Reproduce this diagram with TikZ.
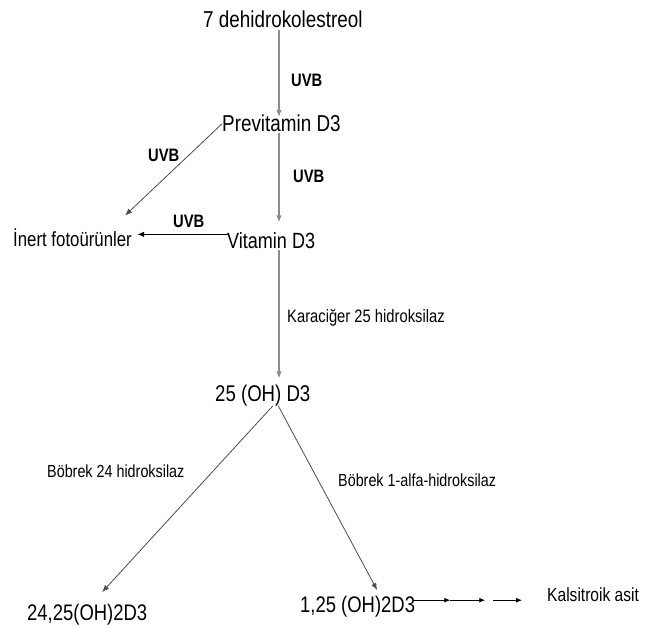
\documentclass[tikz,border=0pt]{standalone}
\usepackage{fontspec}
\setmainfont{Liberation Sans}[FakeStretch=0.82]
\usetikzlibrary{arrows.meta}
\colorlet{colorUV}{black!45}
\colorlet{colorDiag}{black!70}
\tikzset{
   every path/.style={>={Latex[length=7pt,width=5.5pt]}},
   txt/.style={inner sep=0pt,anchor=base west,font=\fontsize{#1}{#1}\selectfont},
   uvb/.style={inner sep=0pt,anchor=base west,font=\bfseries\fontsize{18}{18}\selectfont},
   vert/.style={->,color=colorUV,line width=1.1pt},
   diag/.style={->,color=colorDiag,line width=0.8pt},
   side/.style={->,color=black,line width=1.3pt},
   kal/.style={->,color=black,line width=0.9pt,>={Latex[length=6pt,width=5pt]}},
}

\begin{document}
\begin{tikzpicture}[x=1pt,y=-1pt]
        \useasboundingbox (0,0) rectangle (647,628);
        \coordinate (axis) at (279,0);

        \node[txt=23]   (dhc)   at (203,28)  {7 dehidrokolestreol};
        \node[txt=23]   (prev)  at (222,132) {Previtamin D3};
        \node[txt=22]   (vit)   at (227,248) {Vitamin D3};
        \node[txt=20.5] (inert) at (13,247)  {İnert fotoürünler};
        \node[txt=22.7] (oh)    at (215,401) {25 (OH) D3};
        \node[txt=22.5] (d2425) at (27,620)  {24,25(OH)2D3};
        \node[txt=22.5] (d125)  at (300,612) {1,25 (OH)2D3};
        \node[txt=19]   (kals)  at (547,601) {Kalsitroik asit};

        \node[uvb] (uv1) at (291,87)  {UVB};
        \node[uvb] (uv2) at (293,183) {UVB};
        \node[uvb] (uv3) at (148,162) {UVB};
        \node[uvb] (uv4) at (173,227) {UVB};

        \node[txt=18]   (liver) at (287,322) {Karaciğer 25 hidroksilaz};
        \node[txt=17.5] (kid24) at (47,477)  {Böbrek 24 hidroksilaz};
        \node[txt=17.5] (kid1)  at (338,486) {Böbrek 1-alfa-hidroksilaz};

        \draw[vert,shorten <=2pt,shorten >=-1.8pt] (dhc.south -| axis) -- (prev.north -| axis);
        \draw[vert,shorten <=1pt,shorten >=9.5pt] (prev.south -| axis) -- (vit.north -| axis);
        \draw[vert,shorten <=2pt,shorten >=6pt] (vit.south -| axis) -- (oh.north -| axis);

        \draw[diag] (prev.west) -- ([shift={(-7,-13.5)}]inert.north east);
        \draw[side,shorten <=-2pt,shorten >=5pt] ([yshift=5.8pt]vit.west) -- ([yshift=5.8pt]vit.west -| inert.east);

        \draw[diag] ([xshift=10pt]oh.south) -- ([shift={(15,-11.4)}]d2425.north);
        \draw[diag] ([xshift=15.5pt]oh.south) -- ([shift={(19.5,-5.4)}]d125.north);

        \draw[kal] ([shift={(-2,-6)}]d125.east) -- ++(37,0) coordinate (k1);
        \draw[kal] (k1) -- ++(35,0);
        \draw[kal] ([shift={(-54,6)}]kals.west) -- ([shift={(-25,6)}]kals.west);

      \end{tikzpicture}
\end{document}
